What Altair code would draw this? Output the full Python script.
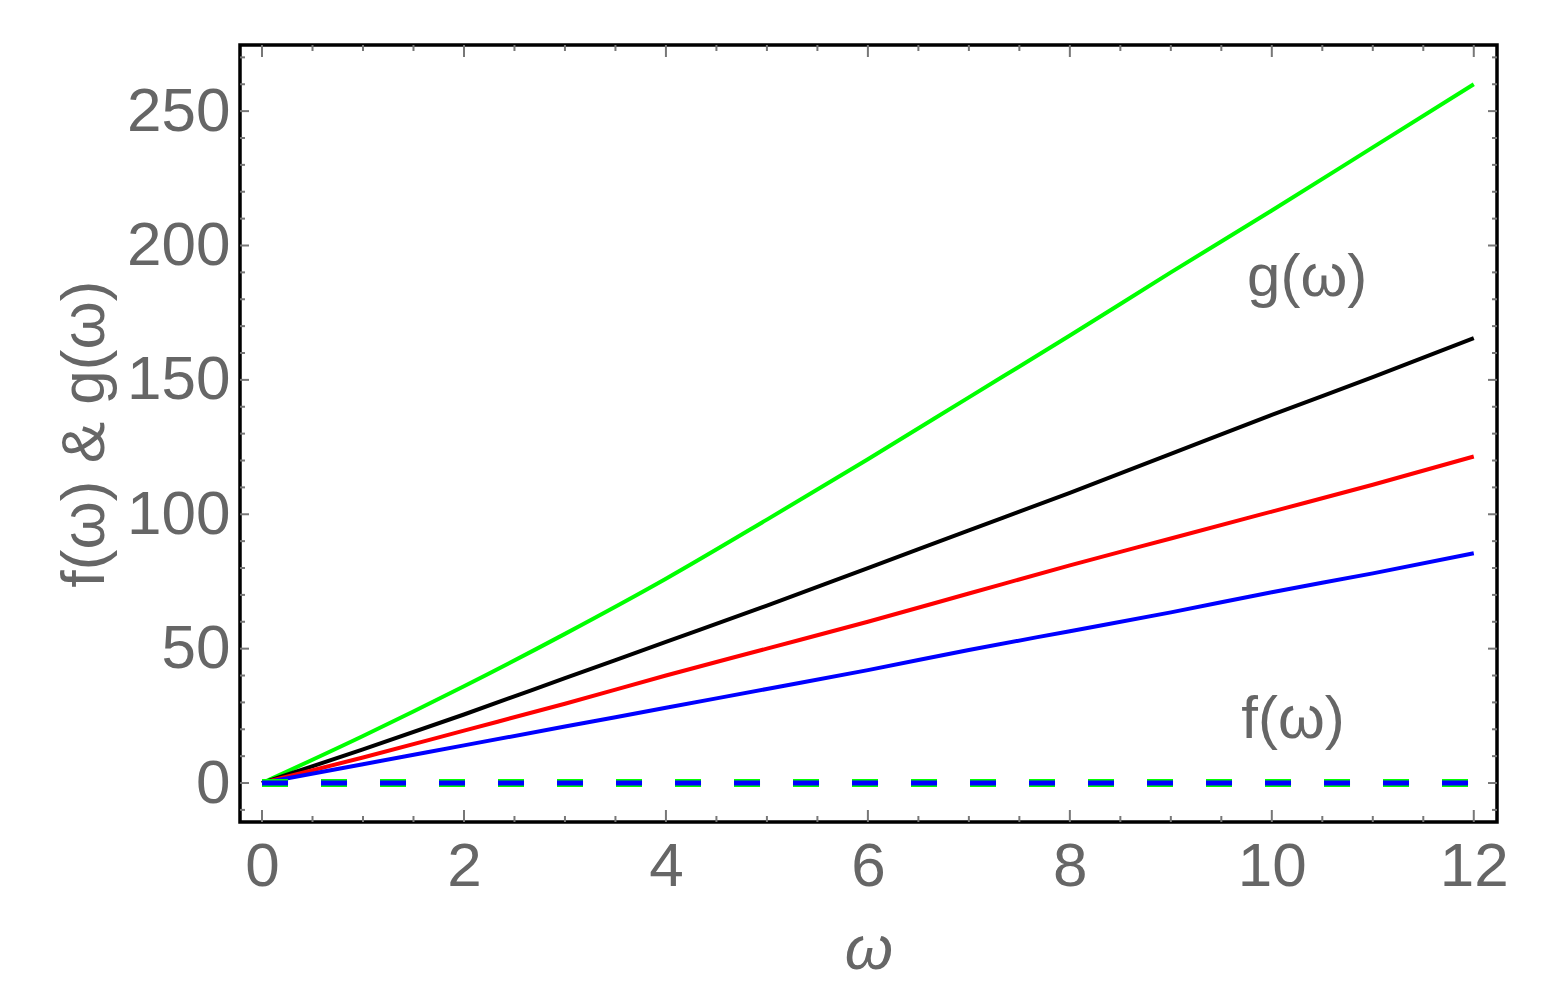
import altair as alt
import pandas as pd

# ---- data ----
omega = [0, 1, 2, 3, 4, 5, 6, 7, 8, 9, 10, 11, 12]
g_green = [0, 17.5, 36, 55.5, 76, 98, 120.5, 143.5, 166.5, 190, 213, 236.5, 260]
g_black = [0, 12.5, 25.5, 39, 52.5, 66, 80, 94, 108, 122.5, 137, 151, 165.5]
g_red = [0, 9.5, 19.5, 29.5, 40, 50, 60, 70.5, 81, 91, 101, 111, 121.5]
g_blue = [0, 7, 14, 21, 28, 35, 42, 49.5, 56.5, 63.5, 71, 78, 85.5]
f_vals = [0, 0, 0, 0, 0, 0, 0, 0, 0, 0, 0, 0, 0]

series_names = ["green", "black", "red", "blue"]
series_colors = ["#00ff00", "#000000", "#ff0000", "#0000ff"]

x_labels = [0, 2, 4, 6, 8, 10, 12]
x_minor = [0.5, 1, 1.5, 2.5, 3, 3.5, 4.5, 5, 5.5, 6.5, 7, 7.5, 8.5, 9, 9.5,
           10.5, 11, 11.5]
y_labels = [0, 50, 100, 150, 200, 250]
y_minor = [-10, 10, 20, 30, 40, 60, 70, 80, 90, 110, 120, 130, 140, 160, 170,
           180, 190, 210, 220, 230, 240, 260, 270]

annot_text = ["g(ω)", "f(ω)"]
annot_x = [10.35, 10.21]
annot_y = [188, 23.4]

X_DOMAIN = [-0.218, 12.23]
Y_DOMAIN = [-14.5, 274.6]
W, H = 1257, 777
FONT = "Liberation Sans, Arial, sans-serif"
GREY = "#666666"
TICK = "#777777"

rows = []
for name, vals in zip(series_names, [g_green, g_black, g_red, g_blue]):
    for w, v in zip(omega, vals):
        rows.append({"omega": w, "value": v, "series": name})
g_df = pd.DataFrame(rows)

f_rows = []
for name in series_names:
    for w, v in zip(omega, f_vals):
        f_rows.append({"omega": w, "value": v, "series": name})
f_df = pd.DataFrame(f_rows)

xs = alt.Scale(domain=X_DOMAIN, nice=False, zero=False)
ys = alt.Scale(domain=Y_DOMAIN, nice=False, zero=False)
cs = alt.Scale(domain=series_names, range=series_colors)

x_axis = alt.Axis(values=x_labels, format="d", ticks=False, domain=False, grid=False,
                  labelFont=FONT, labelFontSize=62, labelColor=GREY,
                  labelPadding=14, labelFlush=False,
                  title="ω", titleFont=FONT, titleFontSize=62,
                  titleFontStyle="italic", titleFontWeight="normal",
                  titleColor=GREY, titlePadding=22)
y_axis = alt.Axis(values=y_labels, format="d", ticks=False, domain=False, grid=False,
                  labelFont=FONT, labelFontSize=62, labelColor=GREY,
                  labelPadding=10, labelFlush=False,
                  title="f(ω) & g(ω)", titleFont=FONT, titleFontSize=62,
                  titleFontWeight="normal", titleColor=GREY, titlePadding=10)

g_lines = alt.Chart(g_df).mark_line(strokeWidth=4, clip=True,
                                    interpolate="monotone").encode(
    x=alt.X("omega:Q", scale=xs, axis=x_axis),
    y=alt.Y("value:Q", scale=ys, axis=y_axis),
    color=alt.Color("series:N", scale=cs, legend=None),
    detail="series:N",
)

f_green = alt.Chart(f_df[f_df.series == "green"]).mark_line(
    strokeWidth=8, strokeDash=[26, 33], color="#00ff00").encode(
    x=alt.X("omega:Q", scale=xs), y=alt.Y("value:Q", scale=ys))
f_blue = alt.Chart(f_df[f_df.series == "blue"]).mark_line(
    strokeWidth=5, strokeDash=[26, 33], color="#0000ff").encode(
    x=alt.X("omega:Q", scale=xs), y=alt.Y("value:Q", scale=ys))

annot_df = pd.DataFrame({"omega": annot_x, "value": annot_y, "label": annot_text})
annots = alt.Chart(annot_df).mark_text(
    font=FONT, fontSize=60, color=GREY, align="center", baseline="middle").encode(
    x=alt.X("omega:Q", scale=xs), y=alt.Y("value:Q", scale=ys), text="label:N")

xmaj_df = pd.DataFrame({"omega": x_labels})
xmin_df = pd.DataFrame({"omega": x_minor})
ymaj_df = pd.DataFrame({"value": y_labels})
ymin_df = pd.DataFrame({"value": y_minor})


def xticks(df, length):
    bottom = alt.Chart(df).mark_rule(color=TICK, strokeWidth=2).encode(
        x=alt.X("omega:Q", scale=xs), y=alt.value(H), y2=alt.value(H - length))
    top = alt.Chart(df).mark_rule(color=TICK, strokeWidth=2).encode(
        x=alt.X("omega:Q", scale=xs), y=alt.value(0), y2=alt.value(length))
    return [bottom, top]


def yticks(df, length):
    left = alt.Chart(df).mark_rule(color=TICK, strokeWidth=2).encode(
        y=alt.Y("value:Q", scale=ys), x=alt.value(0), x2=alt.value(length))
    right = alt.Chart(df).mark_rule(color=TICK, strokeWidth=2).encode(
        y=alt.Y("value:Q", scale=ys), x=alt.value(W), x2=alt.value(W - length))
    return [left, right]


layers = [g_lines, f_green, f_blue, annots]
layers += xticks(xmaj_df, 12) + xticks(xmin_df, 6)
layers += yticks(ymaj_df, 9) + yticks(ymin_df, 5)

chart = alt.layer(*layers).properties(
    width=W, height=H,
    autosize=alt.AutoSizeParams(type="none"),
    padding={"left": 232, "top": 37, "right": 40, "bottom": 175},
).configure_view(stroke="#000000", strokeWidth=3.5)

chart.save("out.html", embed_options={"renderer": "svg", "actions": False})
